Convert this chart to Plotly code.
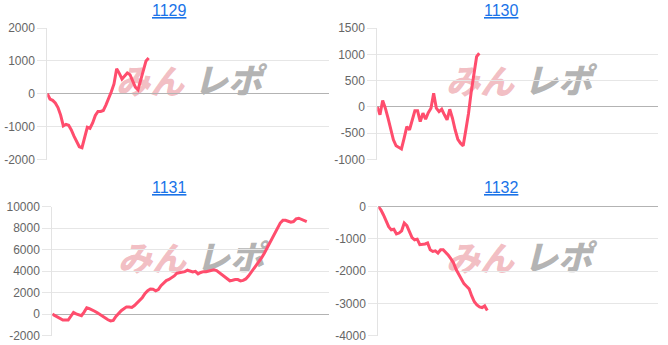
import plotly.graph_objects as go

W, H = 668, 345

titles = ["1129", "1130", "1131", "1132"]

vals_1129 = [0, -160, -200, -280, -420, -650, -980, -930, -960, -1100, -1290, -1460, -1610,
             -1640, -1350, -1020, -1050, -890, -660, -540, -540, -510, -340, -150, 60, 300,
             760, 620, 450, 540, 630, 580, 380, 200, 120, 400, 700, 1000, 1090]

vals_1130 = [0, -150, 120, -25, -215, -405, -625, -740, -765, -800, -595, -375, -435, -235,
             -75, -75, -280, -120, -235, -110, -25, 260, -25, -90, -45, -150, -245, -45, -215,
             -435, -615, -690, -740, -435, -120, 290, 640, 955, 1020]

vals_1131 = [0, -150, -315, -470, -560, -560, -560, -200, 150, 20, -100, -150, 190, 590, 510,
             420, 270, 120, -50, -210, -380, -530, -640, -590, -220, 100, 320, 490, 670, 660,
             620, 800, 1020, 1260, 1550, 1920, 2180, 2330, 2310, 2170, 2290, 2650, 2880, 3120,
             3220, 3360, 3550, 3800, 3850, 3830, 3950, 4080, 4000, 3920, 3980, 3740, 3870, 3950,
             3950, 3990, 4060, 4120, 4050, 3860, 3720, 3500, 3300, 3100, 3150, 3220, 3210, 3090,
             3140, 3270, 3540, 3870, 4230, 4520, 4870, 5250, 5660, 6150, 6650, 7130, 7630, 8090,
             8470, 8720, 8720, 8640, 8550, 8610, 8860, 8920, 8840, 8720, 8610]

vals_1132 = [0, -100, -260, -440, -620, -720, -700, -850, -820, -750, -510, -590, -790, -960,
             -1030, -1010, -1180, -1180, -1160, -1130, -1340, -1390, -1370, -1440, -1340, -1340,
             -1410, -1510, -1620, -1750, -1950, -2110, -2260, -2390, -2470, -2550, -2770, -2950,
             -3050, -3110, -3130, -3080, -3220]

series = [vals_1129, vals_1130, vals_1131, vals_1132]

# y tick labels per panel
yticks_1129 = [-2000, -1000, 0, 1000, 2000]
yticks_1130 = [-1000, -500, 0, 500, 1000, 1500]
yticks_1131 = [-2000, 0, 2000, 4000, 6000, 8000, 10000]
yticks_1132 = [-4000, -3000, -2000, -1000, 0]
yticks = [yticks_1129, yticks_1130, yticks_1131, yticks_1132]

x_slots = [105.6, 104.7, 104.4, 107.9]

# pixel boxes of the plot areas (left, right, top, bottom)
boxes = [(47.3, 329, 28, 159.5), (377.3, 658.3, 28, 159.5),
         (52.3, 329, 206.6, 335.6), (378.3, 658.3, 206.6, 335.6)]
title_centers = [(169, 11), (501, 11), (169, 187), (501, 187)]
# watermark boxes (pink part, grey part) in pixels: (x0, x1, y0, y1)
wm_pink = [(114, 186, 70, 98), (444, 516, 70, 98), (116, 188, 246, 276), (444, 516, 246, 276)]
wm_grey = [(190, 266, 69, 98), (520, 596, 69, 98), (192, 268, 245, 276), (520, 596, 245, 276)]

LINE = "#ff4d6d"
GRID = "#e6e6e6"

fig = go.Figure()
layout = dict(
    width=W, height=H, margin=dict(l=0, r=0, t=0, b=0, autoexpand=False),
    paper_bgcolor="white", plot_bgcolor="rgba(0,0,0,0)", showlegend=False,
    font=dict(family="Liberation Sans, Arial, sans-serif", size=12, color="#666666"),
)
annotations = []
shapes = []

for i, vals in enumerate(series):
    n = i + 1
    xa = "x" if n == 1 else f"x{n}"
    ya = "y" if n == 1 else f"y{n}"
    l, r, t, b = boxes[i]
    fig.add_trace(go.Scatter(
        x=list(range(len(vals))), y=vals, xaxis=xa, yaxis=ya, mode="lines",
        line=dict(color=LINE, width=3), hoverinfo="skip"))
    layout["xaxis" if n == 1 else f"xaxis{n}"] = dict(
        domain=[l / W, r / W], anchor=ya, range=[0, x_slots[i]],
        showgrid=False, zeroline=False, showticklabels=False, ticks="",
        showline=False, fixedrange=True, automargin=False)
    tv = yticks[i]
    layout["yaxis" if n == 1 else f"yaxis{n}"] = dict(
        domain=[1 - b / H, 1 - t / H], anchor=xa, range=[tv[0], tv[-1]],
        tickmode="array", tickvals=tv, ticktext=[str(v) for v in tv],
        showgrid=True, gridcolor=GRID, gridwidth=1,
        zeroline=True, zerolinecolor="#b3b3b3", zerolinewidth=1,
        showline=True, linecolor="#e3e3e3", linewidth=1,
        ticks="outside", ticklen=9, tickcolor=GRID, tickwidth=1,
        tickfont=dict(size=12, color="#666666"), fixedrange=True, automargin=False)
    cx, cy = title_centers[i]
    annotations.append(dict(
        text=f"<u>{titles[i]}</u>", x=cx / W, y=1 - cy / H, xref="paper", yref="paper",
        xanchor="center", yanchor="middle", showarrow=False,
        font=dict(size=16, color="#1a73e8", family="Liberation Sans, Arial, sans-serif")))
    for part, txt, col in ((wm_pink[i], "みん", "rgba(226,110,122,0.45)"),
                           (wm_grey[i], "レポ", "rgba(130,130,130,0.6)")):
        x0, x1, y0, y1 = part
        shapes.append(dict(
            type="rect", xref=f"{xa} domain", yref=f"{ya} domain",
            x0=(x0 - l) / (r - l), x1=(x1 - l) / (r - l),
            y0=(b - y1) / (b - t), y1=(b - y0) / (b - t),
            line=dict(width=0), fillcolor="rgba(0,0,0,0)", layer="below",
            label=dict(text=txt, textposition="middle center",
                       font=dict(family="Noto Sans CJK JP", size=34, color=col,
                                 weight=900, style="italic"))))

layout["annotations"] = annotations
layout["shapes"] = shapes
fig.update_layout(**layout)
fig.write_html("out.html", config={"displayModeBar": False})
